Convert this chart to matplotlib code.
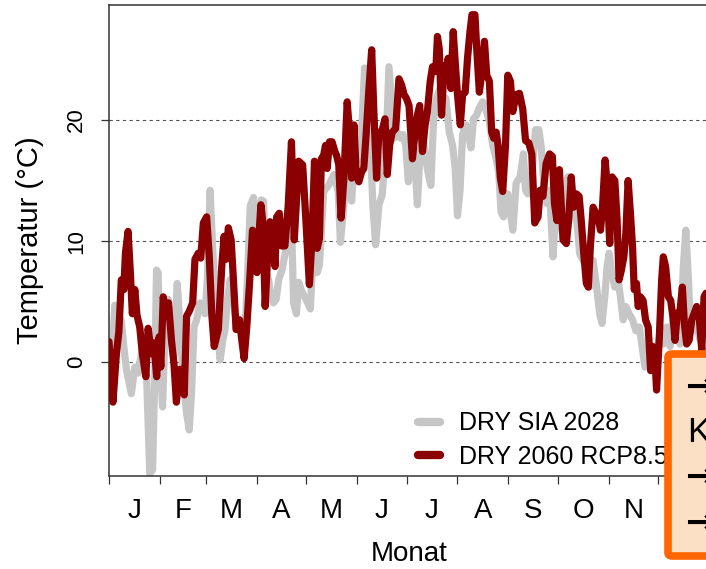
import matplotlib
matplotlib.use("Agg")
import matplotlib.pyplot as plt
from matplotlib.patches import FancyBboxPatch
from matplotlib.lines import Line2D

plt.rcParams['font.family'] = ['Liberation Sans', 'DejaVu Sans']

# Tagesmittel der Lufttemperatur (Tag im Jahr, °C)
sia_days = [0, 2.0, 3.5, 5.5, 7.5, 9.0, 10.6, 13.6, 15.7, 17.7, 19.7, 21.2, 22.8, 24.8,
            26.5, 27.9, 28.9, 29.9, 31.3, 32.6, 34.0, 36.0, 38.1, 39.5, 41.5, 43.1, 45.2,
            47.2, 48.8, 50.3, 51.7, 53.3, 55.4, 57.0, 58.4, 59.8, 61.5, 63.1, 64.5, 66.1,
            67.6, 69.2, 70.6, 72.0, 73.7, 75.3, 76.7, 78.8, 80.8, 82.8, 84.2, 85.9, 87.9,
            89.5, 91.0, 92.6, 94.0, 95.6, 97.1, 98.7, 100.1, 101.7, 103.2, 105.2, 107.2,
            109.3, 111.3, 112.3, 114.0, 115.4, 117.4, 119.5, 122.5, 124.5, 126.6, 128,
            130.6, 133.6, 136.8, 139.4, 140.8, 142.9, 144.9, 147.6, 149, 152, 154, 155.5,
            157, 159.1, 160.5, 162.2, 164.2, 166.2, 168.7, 170.3, 172, 173.4, 175.4,
            177.5, 178.9, 180.5, 182.1, 183.6, 185.6, 187.6, 189, 191.1, 192.7, 194.3,
            195.8, 197.4, 199.2, 201.3, 203.3, 204.9, 207, 209, 210.6, 212, 213.5, 215.1,
            217.1, 218.5, 220.2, 221.8, 223.6, 225.3, 227.3, 228.9, 231.4, 233.4, 235.5,
            237.1, 238.5, 240, 242.6, 245.7, 247.7, 250.1, 252.1, 253.4, 254.8, 257.2,
            259.5, 261.5, 262.9, 264.6, 266.4, 268, 270.1, 271.7, 273.7, 276.2, 278.2,
            279.2, 281.2, 283.3, 284.7, 286.3, 288.4, 290.4, 292.4, 294.5, 296.9, 298.5,
            299.9, 301.6, 303, 304.2, 305.6, 307.7, 309.7, 311.1, 312.8, 314.4, 316.4,
            318.5, 320.5, 322.6, 324.6, 326, 328.1, 330.7, 333.1, 335.2, 337.2, 339.2,
            341.3, 343.3, 345.4, 347.4, 349.4, 350.9, 352.5, 353.9, 355.6, 357.6, 359.7,
            361.7, 363.3]
sia_temp = [1.6, 0.5, 4.7, 4.0, 3.4, 1.3, -0.6, -2.6, -0.4, -0.9, 0.7, 1.6, -0.9, -9.2,
            -8.9, -0.9, 7.6, 7.4, -0.4, -3.7, 2.4, 5.2, 1.8, 0.5, 6.5, 3.2, -1.5,
            -4.2, -5.6, -2.3, 2.9, 3.5, 4.9, 4.6, 4.0, 6.8, 14.2, 9.3, 6.0, 2.4,
            0.2, 1.8, 2.7, 5.2, 6.8, 5.7, 4.0, 2.9, 3.2, 2.9, 6.8, 12.9, 13.6,
            10.1, 9.3, 13.4, 13.3, 7.4, 6.8, 5.2, 4.9, 5.2, 6.8, 7.6, 9.0,
            11.2, 10.1, 4.9, 4.0, 6.6, 5.8, 5.3, 4.4, 10.2, 7.4, 8.0,
            14.1, 14.6, 15.5, 14.1, 9.9, 13.0, 17.1, 13.3, 16.3, 16.8, 19.9, 24.3,
            19.0, 17.7, 13.0, 9.7, 13.0, 13.8, 18.5, 24.4, 21.2, 18.5, 19.0,
            18.5, 18.8, 17.9, 14.9, 16.6, 17.7, 13.0, 16.8, 18.5, 16.8, 15.5,
            14.6, 19.9, 21.8, 22.6, 21.2, 21.8, 19.0, 17.9, 16.0, 12.1, 14.1, 18.8,
            19.6, 19.0, 17.7, 20.1, 20.4, 21.0, 21.5, 21.0, 19.9, 17.9, 16.8,
            15.7, 12.4, 12.0, 13.9, 10.9, 14.8, 15.3, 17.2, 14.2, 13.9, 15.6,
            19.2, 19.2, 17.8, 14.5, 13.1, 14.2, 8.7, 12.3, 11.7, 10.6, 13.4,
            15.3, 14.2, 12.3, 11.5, 9.0, 8.4, 7.9, 6.2, 8.4, 5.9, 4.0,
            3.2, 5.4, 7.9, 9.0, 7.6, 6.2, 6.8, 5.4, 3.5, 4.6, 4.0,
            3.5, 2.6, 2.9, 1.0, -0.4, 0.2, 1.3, 0.7, 2.4, 1.5, 2.9,
            1.3, 4.0, 2.4, 1.5, 7.9, 10.9, 6.8, 2.4, 3.7, 2.9, 1.8,
            3.5, 3.2]

rcp_days = [0, 2.4, 4.5, 6, 7.5, 9, 10, 11.6, 13, 14.2, 15.7, 17, 18.7, 20.3, 22.4, 23.8,
            25.8, 27.3, 29, 30.5, 31.5, 33, 34.6, 36.2, 38, 39.5, 41, 43, 44.6, 45.8,
            47.2, 48.8, 50.9, 52.3, 54.3, 55.8, 57.4, 59.4, 61, 62.5, 64, 66.5, 68.6,
            70, 71.2, 72.6, 74.3, 75.7, 77.3, 79.4, 80.8, 82.2, 83.8, 85.5, 87.3, 88.9,
            90, 91.2, 92.4, 93.6, 95, 96.7, 98, 99.7, 101, 102, 103.6, 105, 107, 109,
            111, 112.7, 115.4, 117.8, 119.5, 121.9, 123.5, 125, 126.6, 128, 129.2,
            130.6, 131.7, 132.7, 134.1, 135.7, 137.4, 138.4, 139.8, 141.2, 142.9,
            144.9, 146.3, 147.6, 149, 150.4, 152, 153.6, 155, 156.5, 158, 159.8,
            161.2, 162.8, 164.2, 165.9, 167.9, 169.3, 170.7, 172.3, 174.4, 176.4,
            178, 179.5, 180.9, 182.5, 184.6, 186.2, 187.6, 189, 190.7, 192.3, 193.7,
            195.4, 196.8, 198.8, 199.8, 200.9, 202.3, 203.9, 205.3, 206.3, 208,
            209.4, 210.6, 212, 213.7, 215.1, 216.7, 218.1, 219.6, 220.8, 222.6,
            223.9, 225.3, 226.9, 228.4, 229.8, 231.4, 232.8, 234, 235.5, 236.7,
            238.1, 239.5, 241.2, 242.6, 244.2, 245.6, 247.7, 249.7, 251.7, 253.4,
            255.4, 257.2, 259, 261, 262.3, 264, 265.9, 268, 269.7, 271, 272.5, 274,
            276.2, 278.2, 279.6, 281.2, 282.6, 284.3, 286, 287.4, 288.8, 290.4,
            291.6, 292.8, 294.5, 296.1, 297.5, 299, 300.2, 301.8, 303, 304.6, 306,
            307.7, 309.1, 310.3, 311.7, 313.2, 314.4, 315.8, 317.2, 318.5, 319.5,
            320.9, 321.9, 323.3, 324.9, 326.4, 328, 329.5, 330.7, 332.1, 333.1,
            334.7, 336.2, 337.2, 338.6, 340.3, 341.7, 343.3, 344.3, 345.7, 347.4,
            348.8, 350, 351.4, 352.9, 354.5, 355.9, 357.5, 358.9, 360.6, 362, 363.2]
rcp_temp = [1.7, -3.3, 0.7, 2.5, 6.8, 6.0, 9.0, 10.8, 7.4, 4.0, 6.0, 3.9, 2.9, 0.7, -1.2, 2.8,
            0.7, 1.6, -1.2, 2.1, -0.4, 5.4, 3.8, 4.9, 1.8, -0.1, -3.3, -0.6, -0.6, -2.7,
            3.8, 4.2, 4.9, 8.5, 9.0, 8.6, 11.5, 12.0, 8.7, 4.0, 1.3, 2.7, 7.9,
            10.4, 8.5, 11.1, 10.1, 6.8, 2.7, 3.5, 1.8, 0.3, 2.9, 6.5, 10.9, 8.5,
            7.4, 10.4, 13.0, 11.5, 4.6, 9.3, 11.6, 10.1, 7.9, 12.0, 12.3, 9.6, 9.6, 12.9,
            18.2, 10.1, 16.6, 16.3, 12.4, 6.4, 10.2, 16.6, 9.4, 10.2, 16.8,
            17.1, 17.9, 16.0, 18.2, 18.2, 17.4, 17.1, 16.3, 11.9, 15.2,
            21.5, 19.0, 15.2, 19.6, 15.5, 14.9, 15.7, 16.0, 19.0, 22.3, 25.8,
            20.4, 15.2, 19.0, 19.0, 20.1, 15.5, 17.9, 19.0, 19.3, 23.4,
            22.9, 22.1, 21.8, 21.2, 16.8, 19.0, 20.4, 21.2, 17.4, 19.6, 20.7,
            23.2, 24.4, 24.0, 26.9, 25.9, 20.4, 24.5, 24.0, 25.1, 22.6,
            27.3, 24.8, 22.1, 19.6, 22.1, 22.3, 25.1, 27.3, 28.7, 28.7,
            25.4, 22.3, 24.0, 26.5, 23.7, 23.2, 19.0, 18.5, 19.0, 17.9,
            15.2, 14.1, 17.9, 23.7, 23.2, 20.7, 22.1, 22.2, 20.9, 18.3,
            18.1, 17.2, 11.5, 12.0, 14.2, 13.7, 16.4, 17.2, 17.0, 13.1, 11.7, 15.9,
            10.1, 9.8, 11.7, 15.3, 12.8, 13.9, 13.7, 11.5, 9.0, 6.5,
            6.2, 9.5, 12.8, 12.3, 12.0, 10.9, 12.8, 16.7, 14.8, 9.8, 15.3,
            15.0, 11.7, 6.8, 7.6, 8.7, 10.6, 15.0, 12.3, 9.5, 6.0,
            6.5, 4.6, 5.4, 5.1, 3.5, 2.9, -0.7, 1.3, 0.4, -2.3,
            1.8, 6.8, 8.7, 7.9, 5.4, 5.1, 3.5, 1.8, 4.0, 4.3,
            6.2, 3.2, 1.5, 1.8, 3.5, 4.0, 4.6, 4.0, 1.0, 5.4, 5.7]

month_starts = [0, 31, 59, 90, 120, 151, 181, 212, 243, 273, 304, 334, 365]
# Dezember liegt unter der Infobox und ist im Original nicht sichtbar
month_labels = ["J", "F", "M", "A", "M", "J", "J", "A", "S", "O", "N"]
y_ticks = [0, 10, 20]
series_names = ["DRY SIA 2028", "DRY 2060 RCP8.5"]

col_sia = "#c6c6c6"
col_rcp = "#8b0000"

fig = plt.figure(figsize=(7.06, 5.69), dpi=100)
# Achse ragt rechts etwas aus dem Bild (Ausschnitt einer Folie)
ax = fig.add_axes([109 / 706, 93 / 569, 600 / 706, 471 / 569])

for y in y_ticks:
    ax.axhline(y, color="#555555", lw=0.8, ls=(0, (3, 3)), zorder=1)

ax.plot(sia_days, sia_temp, color=col_sia, lw=5.2, solid_joinstyle="round",
        solid_capstyle="round", zorder=2)
ax.plot(rcp_days, rcp_temp, color=col_rcp, lw=5.2, solid_joinstyle="round",
        solid_capstyle="round", zorder=3)

ax.set_xlim(0, 365)
ax.set_ylim(-9.4, 29.5)

ax.set_xticks(month_starts)
ax.set_xticklabels([])
mids = [(a + b) / 2 for a, b in zip(month_starts[:-2], month_starts[1:-1])]
ax.set_xticks(mids, minor=True)
ax.set_xticklabels(month_labels, minor=True, fontsize=20)
ax.tick_params(axis="x", which="major", length=6, width=0.9, color="#333333")
ax.tick_params(axis="x", which="minor", length=0, pad=16)

ax.set_yticks(y_ticks)
ax.set_yticklabels([str(v) for v in y_ticks], fontsize=16, rotation=90, va="center")
ax.tick_params(axis="y", length=6, width=0.9, color="#333333", pad=10)

for sp in ax.spines.values():
    sp.set_color("#333333")
    sp.set_linewidth(1.1)

ax.set_xlabel("Monat", fontsize=20, labelpad=12)
ax.set_ylabel("Temperatur (°C)", fontsize=21, labelpad=16)

handles = [Line2D([0], [0], color=col_sia, lw=6, solid_capstyle="round"),
           Line2D([0], [0], color=col_rcp, lw=6, solid_capstyle="round")]
ax.legend(handles, series_names, loc="lower left", bbox_to_anchor=(0.485, -0.022),
          frameon=False, fontsize=18, handlelength=0.9, handletextpad=0.75,
          labelspacing=0.38, borderaxespad=0.3)

# orange Infobox am rechten Rand (angeschnitten)
box = FancyBboxPatch((668 / 706, 13 / 569), 0.2, 202 / 569,
                     boxstyle="round,pad=0,rounding_size=0.006",
                     transform=fig.transFigure, facecolor="#fce0c6",
                     edgecolor="#ff6600", linewidth=5.5, zorder=5)
fig.patches.append(box)

box_lines = ["→", "K", "→", "→"]
box_y = [387, 433, 477, 523]
for txt, yy in zip(box_lines, box_y):
    if txt == "→":
        fig.text(685 / 706, 1 - yy / 569, txt, fontsize=25, ha="left", va="center",
                 color="black", family=["DejaVu Sans"], weight="bold", zorder=6)
    else:
        fig.text(687 / 706, 1 - yy / 569, txt, fontsize=25, ha="left", va="center",
                 color="black", zorder=6)

fig.savefig("out.png", dpi=100)
